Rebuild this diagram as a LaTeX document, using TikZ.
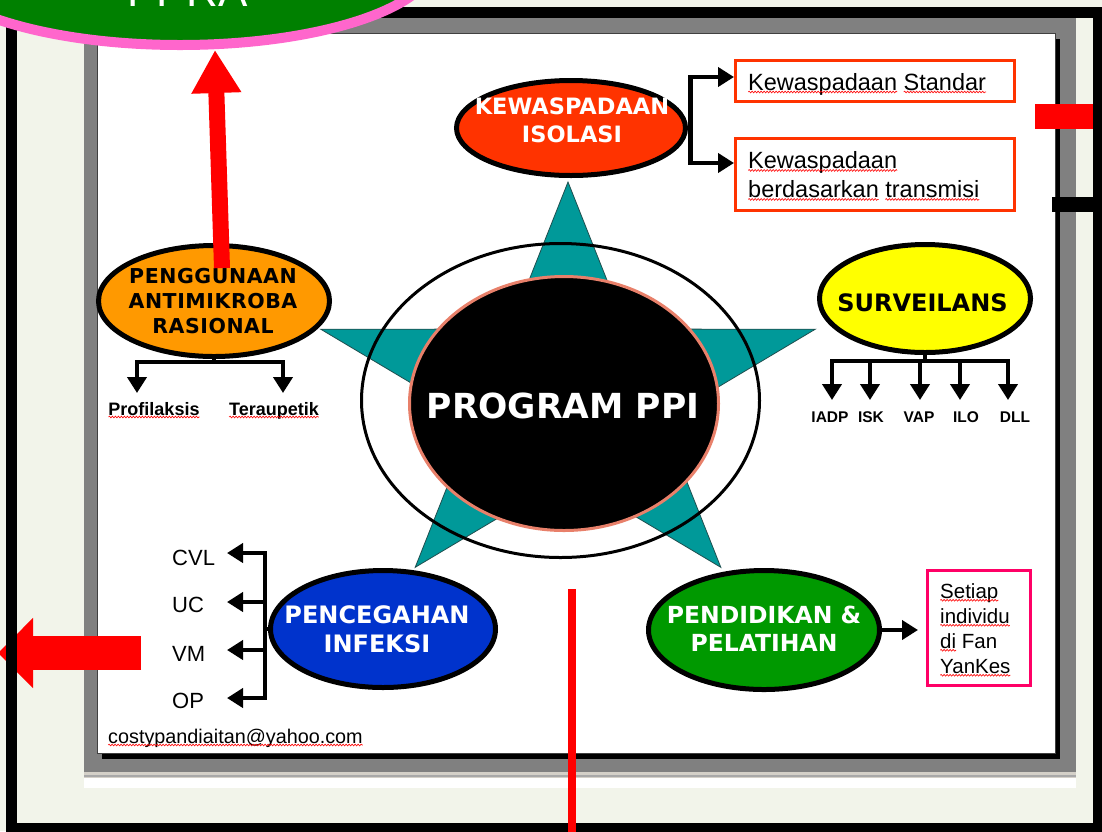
\documentclass[tikz,border=0pt]{standalone}
\usepackage{fontspec}
\setmainfont{Liberation Sans}
\newfontfamily\dvs{DejaVu Sans}
\usetikzlibrary{shapes.geometric,arrows.meta,decorations.pathmorphing,calc}
\definecolor{bgc}{HTML}{F2F4EA}
\definecolor{scrgray}{HTML}{808080}
\definecolor{band}{HTML}{D4D0C8}
\definecolor{bandline}{HTML}{A8A8A8}
\definecolor{slideedge}{HTML}{404040}
\definecolor{teal2}{HTML}{009999}
\definecolor{stardk}{HTML}{1F4F4F}
\definecolor{kewc}{HTML}{FF3300}
\definecolor{antic}{HTML}{FF9900}
\definecolor{survc}{HTML}{FFFF00}
\definecolor{penc}{HTML}{0033CC}
\definecolor{pendc}{HTML}{009900}
\definecolor{boxc}{HTML}{FF3300}
\definecolor{setc}{HTML}{FF0066}
\definecolor{pgreen}{HTML}{008000}
\definecolor{ppink}{HTML}{FF66CC}
\definecolor{salmon2}{HTML}{E8806A}
\definecolor{redc}{HTML}{FF0000}
\newsavebox\spbox
\newlength\splen
\newcommand\spellw[1]{\sbox\spbox{#1}\setlength\splen{\wd\spbox}\usebox\spbox\tikz[overlay]\draw[spell] (-\splen,-2pt) -- (0pt,-2pt);}
\begin{document}
\begin{tikzpicture}[x=1pt,y=-1pt,
  elli/.style={ellipse, draw=black, line width=5pt, inner sep=0pt},
  capt/.style={align=center, inner sep=0pt},
  arr/.style={line width=4.5pt, -{Triangle[length=16pt,width=19pt]}},
  boxr/.style={draw=#1, line width=3pt, inner sep=0pt, anchor=north west},
  lbl/.style={inner sep=0pt, anchor=base west},
  spell/.style={draw=redc, line width=0.6pt, decorate, decoration={snake, amplitude=0.9pt, segment length=3pt}}
]
\useasboundingbox (0,0) rectangle (1102,831);
\fill[bgc] (0,0) rectangle (1102,831);
% screenshot frame
\fill[scrgray] (84,18) rectangle (1076,772);
\fill[band] (84,772) rectangle (1076,778);
\draw[bandline, line width=1.2pt] (84,776) -- (1076,776);
\fill[white] (84,778) rectangle (1076,788);
\fill[black] (102,39) rectangle (1060,759);
\filldraw[fill=white, draw=slideedge, line width=1pt] (97,33) rectangle (1055,753);
% star
\filldraw[fill=teal2, draw=stardk, line width=0.8pt] (568,182) -- (509.6,329.1) -- (320.7,329.2) -- (473.6,420.2) -- (415.2,567.3) -- (568,476.4) -- (720.8,567.3) -- (662.4,420.2) -- (815.3,329.2) -- (626.4,329.1) -- cycle;
% centre
\node[ellipse, draw=black, line width=3pt, minimum width=398pt, minimum height=314pt, inner sep=0pt] (ring) at (560.5,400.5) {};
\node[ellipse, fill=black, draw=salmon2, line width=3pt, minimum width=309pt, minimum height=254pt, inner sep=0pt] (core) at (564,403.5) {};
\node[inner sep=0pt, anchor=base, text=white, font={\dvs\fontsize{34.5}{40}\selectfont\bfseries}] (ppi) at (563,418) {PROGRAM PPI};
% coloured ellipses
\node[elli, fill=kewc, minimum width=229pt, minimum height=95pt] (kew) at (571,128) {};
\node[capt, text=white, font={\dvs\fontsize{22.5}{28}\selectfont\bfseries}] (kewt) at (572,120.5) {KEWASPADAAN\\ISOLASI};
\node[elli, fill=antic, minimum width=231pt, minimum height=111pt] (anti) at (214,301) {};
\node[capt, text=black, font={\dvs\fontsize{20.5}{25}\selectfont\bfseries\addfontfeature{LetterSpace=2.7}}] (antit) at (213,300.6) {PENGGUNAAN\\ANTIMIKROBA\\RASIONAL};
\node[elli, fill=survc, minimum width=211pt, minimum height=108pt] (surv) at (925,298.5) {};
\node[inner sep=0pt, anchor=base, text=black, font={\dvs\fontsize{24}{30}\selectfont\bfseries}] (survt) at (922.5,311) {SURVEILANS};
\node[elli, fill=penc, minimum width=225pt, minimum height=117pt] (pen) at (383,629) {};
\node[capt, text=white, font={\dvs\fontsize{24}{29}\selectfont\bfseries}] (pent) at (377,628.75) {PENCEGAHAN\\INFEKSI};
\node[elli, fill=pendc, minimum width=231pt, minimum height=119pt] (pend) at (764,630) {};
\node[capt, text=white, font={\dvs\fontsize{23.5}{28}\selectfont\bfseries}] (pendt) at (764,628.5) {PENDIDIKAN \&\\PELATIHAN};
% boxes
\node[boxr=boxc, minimum width=279pt, minimum height=41pt] (std) at (734,59) {};
\node[lbl, font={\fontsize{23.5}{29}\selectfont}] (stdt) at (748,90) {\spellw{Kewaspadaan} \spellw{Standar}};
\node[boxr=boxc, minimum width=279pt, minimum height=72pt] (trans) at (734,137) {};
\node[inner sep=0pt, anchor=north west, align=left, font={\fontsize{23.5}{29}\selectfont}] (transt) at (748,151.2) {\spellw{Kewaspadaan}\\\spellw{berdasarkan} \spellw{transmisi}};
\node[boxr=setc, minimum width=103pt, minimum height=115pt] (setb) at (926,569) {};
\node[inner sep=0pt, anchor=north west, align=left, font={\fontsize{20.5}{25}\selectfont}] (sett) at (940,583.2) {\spellw{Setiap}\\\spellw{individu}\\\spellw{di} Fan\\\spellw{YanKes}};
% labels
\node[inner sep=0pt, anchor=base, font={\fontsize{18}{22}\selectfont\bfseries}] (prof) at (154,415) {\spellw{Profilaksis}};
\node[inner sep=0pt, anchor=base, font={\fontsize{18}{22}\selectfont\bfseries}] (tera) at (274,415) {\spellw{Teraupetik}};
\foreach \n/\t/\x in {iadp/IADP/830, isk/ISK/871, vap/VAP/919, ilo/ILO/966, dll/DLL/1015}
  \node[inner sep=0pt, anchor=base, font={\fontsize{15.5}{18}\selectfont\bfseries}] (\n) at (\x,422) {\t};
\foreach \n/\t/\y in {cvl/CVL/565, uc/UC/612, vm/VM/661, op/OP/708}
  \node[lbl, font={\fontsize{22}{26}\selectfont}] (\n) at (172,\y) {\t};
\node[lbl, font={\fontsize{19.8}{24}\selectfont}] (mail) at (108,743) {\spellw{costypandiaitan@yahoo.com}};
% connector end points
\coordinate (a1) at (137,393);
\coordinate (a2) at (283,393);
\coordinate (s1) at (832,400);
\coordinate (s2) at (870,400);
\coordinate (s3) at (920,400);
\coordinate (s4) at (960,400);
\coordinate (s5) at (1008,400);
\coordinate (c1) at (227,553);
\coordinate (c2) at (227,602);
\coordinate (c3) at (227,650);
\coordinate (c4) at (227,698);
% connectors
\draw[arr] (kew.east) -- +(2.5,0) |- (std.west |- 0,77);
\draw[arr] (kew.east) -- +(2.5,0) |- (trans.west |- 0,163);
\foreach \t in {s1,s2,s3,s4,s5}
  \draw[arr] (surv.south) -- (surv.south |- 0,361) -| (\t);
\foreach \t in {a1,a2}
  \draw[arr] (anti.south) -- (anti.south |- 0,362) -| (\t);
\foreach \t in {c1,c2,c3,c4}
  \draw[arr] (pen.west) -- (pen.west -| 265,0) |- (\t);
\draw[arr, shorten >=8pt] (pend.east) -- (pend.east -| setb.west);
% red annotations under the frame
\coordinate (rl) at (141,653);
\coordinate (rlt) at (-2,653);
\draw[redc, line width=34pt, -{Triangle[length=35pt,width=68pt]}] (rl) -- (rlt);
\fill[redc] (1035,104) rectangle (1093,129);
\fill[black] (1052,197) rectangle (1095,212);
% outer frame
\draw[black, line width=11pt] (11.5,12.5) rectangle (1098.5,828.5);
% PPRA
\node[ellipse, fill=pgreen, draw=ppink, line width=10pt, minimum width=510pt, minimum height=170pt, inner sep=0pt] (ppra) at (180,-40) {};
\node[inner sep=0pt, anchor=base, text=white, font={\fontsize{44}{48}\selectfont}] (ppratxt) at (187.5,6) {PPRA};
\coordinate (ru) at (222,268);
\draw[redc, line width=16pt, -{Triangle[length=43pt,width=47pt]}] (ru) -- (ppra.south -| 215,0);
\draw[redc, line width=8pt] (572,589) -- (572,835);
\end{tikzpicture}
\end{document}
